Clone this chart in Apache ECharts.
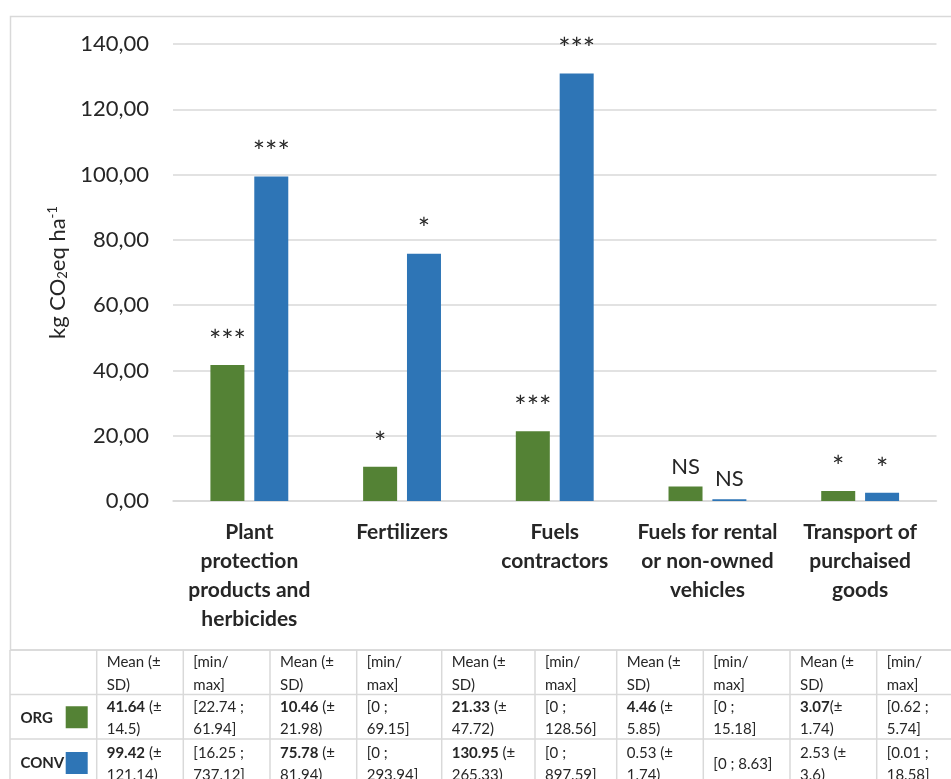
<!DOCTYPE html>
<html>
<head>
<meta charset="utf-8">
<script src="https://cdn.jsdelivr.net/npm/echarts@6/dist/echarts.min.js"></script>
<style>
  html, body { margin: 0; padding: 0; background: #ffffff; }
  #chart { width: 951px; height: 779px; }
</style>
</head>
<body>
<div id="chart"></div>
<script>
// Emission categories (x axis)
const categories = [
  'Plant\nprotection\nproducts and\nherbicides',
  'Fertilizers',
  'Fuels\ncontractors',
  'Fuels for rental\nor non-owned\nvehicles',
  'Transport of\npurchaised\ngoods'
];

// Mean emissions, kg CO2eq per ha
const orgMean = [41.64, 10.46, 21.33, 4.46, 3.07];
const convMean = [99.42, 75.78, 130.95, 0.53, 2.53];

// Significance markers above each bar
const orgSig = ['***', '*', '***', 'NS', '*'];
const convSig = ['***', '*', '***', 'NS', '*'];

// Standard deviations and ranges shown in the table
const orgSD = [14.5, 21.98, 47.72, 5.85, 1.74];
const convSD = [121.14, 81.94, 265.33, 1.74, 3.6];
const orgMin = [22.74, 0, 0, 0, 0.62];
const orgMax = [61.94, 69.15, 128.56, 15.18, 5.74];
const convMin = [16.25, 0, 0, 0, 0.01];
const convMax = [737.12, 293.94, 897.59, 8.63, 18.58];

// Table typography quirks
const orgMeanBold = [true, true, true, true, true];
const convMeanBold = [true, true, true, false, false];
const orgMeanGap = [' ', ' ', ' ', ' ', ''];
const convMeanGap = [' ', ' ', ' ', ' ', ' '];
const orgRangeOneLine = [false, false, false, false, false];
const convRangeOneLine = [false, false, false, true, false];

// Y axis ticks
const yMin = 0, yMax = 140, yStep = 20;

const GREEN = '#548235';
const BLUE = '#2e75b6';
const TEXT = '#262626';
const RULE = '#d9d9d9';
const FONT = 'Lato, "Open Sans", sans-serif';
const CELL_SIZE = 15;

// Table layout
const colEdges = [10, 96.7, 183.3, 270, 356.7, 441.7, 535, 616.7, 703.3, 790, 876.7, 965];
const rowEdges = [650, 694.5, 739, 786];

const chart = echarts.init(document.getElementById('chart'));

const graphics = [];

// Outer frame around the plot
graphics.push({
  type: 'rect', z: 0, silent: true,
  shape: { x: 10.5, y: 16.5, width: 1000, height: 633.5 },
  style: { fill: 'none', stroke: RULE, lineWidth: 1.5 }
});

// Table rules
rowEdges.forEach(y => graphics.push({
  type: 'line', silent: true,
  shape: { x1: colEdges[0], y1: y, x2: colEdges[colEdges.length - 1], y2: y },
  style: { stroke: RULE, lineWidth: 1.5 }
}));
colEdges.forEach(x => graphics.push({
  type: 'line', silent: true,
  shape: { x1: x, y1: rowEdges[0], x2: x, y2: rowEdges[rowEdges.length - 1] },
  style: { stroke: RULE, lineWidth: 1.5 }
}));

const cellRich = {
  n: { fontSize: CELL_SIZE, fontFamily: FONT, lineHeight: 22.5, fill: TEXT },
  b: { fontSize: CELL_SIZE, fontFamily: FONT, fontWeight: 'bold', lineHeight: 22.5, fill: TEXT }
};

function cellText(x, yMid, text) {
  graphics.push({
    type: 'text', silent: true, x: x, y: yMid,
    style: {
      text: text, rich: cellRich, fill: TEXT,
      fontSize: CELL_SIZE, fontFamily: FONT, lineHeight: 22.5,
      align: 'left', verticalAlign: 'middle'
    }
  });
}

function meanCell(v, sd, bold, gap) {
  const first = bold ? '{b|' + v + '}{n|' + gap + '(±}' : '{n|' + v + gap + '(±}';
  return first + '\n{n|' + sd + ')}';
}
function rangeCell(lo, hi, oneLine) {
  return oneLine ? '{n|[' + lo + ' ; ' + hi + ']}' : '{n|[' + lo + ' ;}\n{n|' + hi + ']}';
}

const rowMid = i => (rowEdges[i] + rowEdges[i + 1]) / 2 + 1.5;

categories.forEach((c, i) => {
  const xMean = colEdges[1 + 2 * i] + 10;
  const xRange = colEdges[2 + 2 * i] + 10;
  cellText(xMean, rowMid(0), '{n|Mean (±}\n{n|SD)}');
  cellText(xRange, rowMid(0), '{n|[min/}\n{n|max]}');
  cellText(xMean, rowMid(1), meanCell(orgMean[i], orgSD[i], orgMeanBold[i], orgMeanGap[i]));
  cellText(xRange, rowMid(1), rangeCell(orgMin[i], orgMax[i], orgRangeOneLine[i]));
  cellText(xMean, rowMid(2), meanCell(convMean[i], convSD[i], convMeanBold[i], convMeanGap[i]));
  cellText(xRange, rowMid(2), rangeCell(convMin[i], convMax[i], convRangeOneLine[i]));
});

// Row headers with colour keys
[['ORG', GREEN, 1], ['CONV', BLUE, 2]].forEach(([name, color, r]) => {
  const mid = (rowEdges[r] + rowEdges[r + 1]) / 2;
  graphics.push({
    type: 'text', silent: true, x: 20.5, y: mid + 1,
    style: { text: name, fill: TEXT, fontSize: CELL_SIZE, fontWeight: 'bold', fontFamily: FONT,
      align: 'left', verticalAlign: 'middle' }
  });
  graphics.push({
    type: 'rect', silent: true,
    shape: { x: 65.7, y: mid - 10.5, width: 22, height: 22 },
    style: { fill: color }
  });
});

function sigLabel(arr) {
  return {
    show: true, position: 'top', distance: 9,
    fontSize: 22, fontFamily: FONT, color: TEXT,
    formatter: p => arr[p.dataIndex].indexOf('*') >= 0
      ? '{s|' + arr[p.dataIndex] + '}'
      : '{t|' + arr[p.dataIndex] + '}',
    rich: {
      s: { fontSize: 29, fontFamily: FONT, color: TEXT },
      t: { fontSize: 22, fontFamily: FONT, color: TEXT }
    }
  };
}

chart.setOption({
  backgroundColor: '#ffffff',
  animation: false,
  textStyle: { fontFamily: FONT },
  grid: { left: 173, right: 14.5, top: 44, bottom: 278, containLabel: false },
  xAxis: {
    type: 'category',
    data: categories,
    axisLine: { lineStyle: { color: RULE, width: 1.5 } },
    axisTick: { show: false },
    axisLabel: {
      interval: 0, margin: 17, color: TEXT,
      fontSize: 21, fontWeight: 'bold', lineHeight: 29, fontFamily: FONT
    }
  },
  yAxis: {
    type: 'value',
    min: yMin, max: yMax, interval: yStep,
    name: 'kg CO{sub|2}eq ha{sup|-1}',
    nameLocation: 'middle', nameGap: 101, nameRotate: 90,
    nameTextStyle: {
      fontSize: 22, color: TEXT, fontFamily: FONT,
      rich: {
        sub: { fontSize: 13, fontFamily: FONT, color: TEXT, padding: [10, 0, 0, 0] },
        sup: { fontSize: 13, fontFamily: FONT, color: TEXT, padding: [0, 0, 10, 0] }
      }
    },
    axisLine: { show: false },
    axisTick: { show: false },
    axisLabel: {
      margin: 24, fontSize: 22, color: TEXT, fontFamily: FONT,
      formatter: v => v.toFixed(2).replace('.', ',')
    },
    splitLine: { lineStyle: { color: RULE, width: 1.5 } }
  },
  series: [
    {
      name: 'ORG', type: 'bar', data: orgMean,
      barWidth: 34, barGap: '29%',
      itemStyle: { color: GREEN },
      label: sigLabel(orgSig)
    },
    {
      name: 'CONV', type: 'bar', data: convMean,
      barWidth: 34, barGap: '29%',
      itemStyle: { color: BLUE },
      label: sigLabel(convSig)
    }
  ],
  graphic: graphics
});
</script>
</body>
</html>
